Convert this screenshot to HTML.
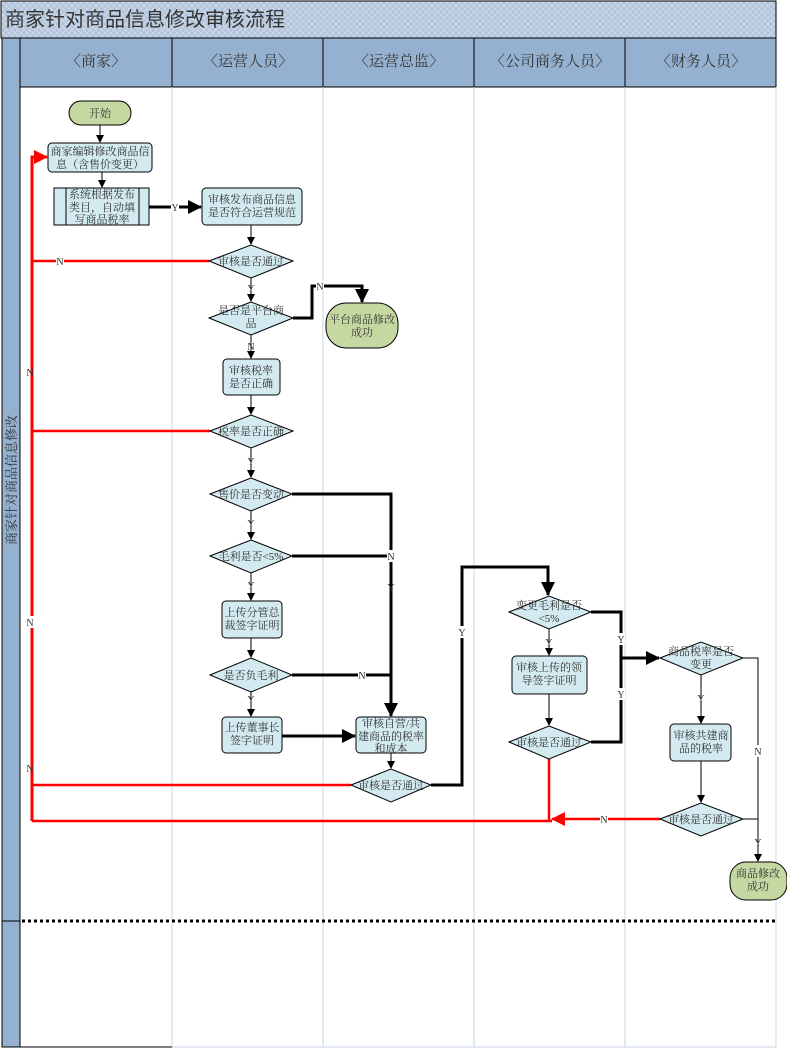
<!DOCTYPE html>
<html><head><meta charset="utf-8"><style>
html,body{margin:0;padding:0;background:#fff;width:787px;height:1049px;overflow:hidden}
svg{display:block}
text{font-family:"Liberation Serif","Noto Serif CJK SC","Noto Sans CJK SC",serif;fill:#333}
</style></head><body>
<svg width="787" height="1049" viewBox="0 0 787 1049" xmlns="http://www.w3.org/2000/svg">
<defs>
<pattern id="hp" width="6" height="6" patternUnits="userSpaceOnUse">
<rect width="6" height="6" fill="#b3c5dc"/>
<path d="M0 0L6 6M6 0L0 6" stroke="#d2dcea" stroke-width="0.7"/>
</pattern>
<marker id="ab" markerWidth="8" markerHeight="8" refX="7" refY="4" orient="auto" markerUnits="userSpaceOnUse"><path d="M0 0L8 4L0 8z" fill="#000"/></marker>
<marker id="abig" markerWidth="14" markerHeight="14" refX="13" refY="7" orient="auto" markerUnits="userSpaceOnUse"><path d="M0 0L14 7L0 14z" fill="#000"/></marker>
<marker id="ar" markerWidth="14" markerHeight="14" refX="13" refY="7" orient="auto" markerUnits="userSpaceOnUse"><path d="M0 0L14 7L0 14z" fill="#f00"/></marker>
</defs>
<!-- title -->
<rect x="1" y="1" width="775" height="37" fill="url(#hp)" stroke="#000"/>
<text x="5" y="26" font-size="20" style="font-family:'Liberation Sans','Noto Sans CJK SC',sans-serif">商家针对商品信息修改审核流程</text>
<!-- header -->
<rect x="20" y="38" width="756" height="49" fill="#95b1d0" stroke="#000"/>
<g stroke="#000"><line x1="172" y1="38" x2="172" y2="87"/><line x1="323" y1="38" x2="323" y2="87"/><line x1="474" y1="38" x2="474" y2="87"/><line x1="625" y1="38" x2="625" y2="87"/></g>
<g font-size="15" text-anchor="middle">
<text x="96" y="66">〈商家〉</text><text x="248" y="66">〈运营人员〉</text><text x="399" y="66">〈运营总监〉</text><text x="550" y="66">〈公司商务人员〉</text><text x="701" y="66">〈财务人员〉</text>
</g>
<!-- left band -->
<rect x="2" y="38" width="18" height="1009" fill="#95b1d0" stroke="#000"/>
<line x1="2" y1="921" x2="20" y2="921" stroke="#000"/>
<text transform="translate(16,480) rotate(-90)" font-size="13" text-anchor="middle">商家针对商品信息修改</text>
<!-- lane lines -->
<g stroke="#c7d5e6"><line x1="172" y1="87" x2="172" y2="1047"/><line x1="323" y1="87" x2="323" y2="1047"/><line x1="474" y1="87" x2="474" y2="1047"/><line x1="625" y1="87" x2="625" y2="1047"/><line x1="776" y1="87" x2="776" y2="1047"/><line x1="172" y1="1047" x2="776" y2="1047"/></g>
<line x1="20" y1="87" x2="20" y2="1047" stroke="#000"/>
<line x1="20" y1="1047" x2="172" y2="1047" stroke="#000"/>
<line x1="22" y1="921" x2="776" y2="921" stroke="#000" stroke-width="3" stroke-dasharray="3,3"/>

<!-- red connectors -->
<g stroke="#f00" fill="none">
<path d="M32 821V157H47" stroke-width="3" marker-end="url(#ar)"/>
<line x1="32" y1="261" x2="209" y2="261" stroke-width="2.5"/>
<line x1="32" y1="431" x2="210" y2="431" stroke-width="2.5"/>
<line x1="32" y1="785" x2="351" y2="785" stroke-width="2.5"/>
<line x1="32" y1="821" x2="552" y2="821" stroke-width="2.5"/>
<line x1="549" y1="759" x2="549" y2="821" stroke-width="2.5"/>
<line x1="660" y1="819" x2="552" y2="819" stroke-width="2.5" marker-end="url(#ar)"/>
</g>
<!-- black connectors -->
<g stroke="#000" fill="none">
<line x1="100" y1="125" x2="100" y2="142" marker-end="url(#ab)"/>
<line x1="102" y1="172" x2="102" y2="187" marker-end="url(#ab)"/>
<line x1="149" y1="207" x2="201" y2="207" stroke-width="3" marker-end="url(#abig)"/>
<line x1="251" y1="225" x2="251" y2="244" marker-end="url(#ab)"/>
<line x1="251" y1="278" x2="251" y2="301" marker-end="url(#ab)"/>
<path d="M293 318H312V286H362V302" stroke-width="3" marker-end="url(#abig)"/>
<line x1="251" y1="335" x2="251" y2="358" marker-end="url(#ab)"/>
<line x1="251" y1="395" x2="251" y2="414" marker-end="url(#ab)"/>
<line x1="251" y1="448" x2="251" y2="477" marker-end="url(#ab)"/>
<line x1="251" y1="511" x2="251" y2="539" marker-end="url(#ab)"/>
<line x1="251" y1="573" x2="251" y2="600" marker-end="url(#ab)"/>
<line x1="251" y1="638" x2="251" y2="657" marker-end="url(#ab)"/>
<line x1="251" y1="692" x2="251" y2="716" marker-end="url(#ab)"/>
<path d="M292 494H391V716" stroke-width="3" marker-end="url(#abig)"/>
<line x1="292" y1="556" x2="391" y2="556" stroke-width="3"/>
<line x1="292" y1="675" x2="391" y2="675" stroke-width="3"/>
<line x1="282" y1="736" x2="355" y2="736" stroke-width="3" marker-end="url(#abig)"/>
<line x1="391" y1="753" x2="391" y2="768" marker-end="url(#ab)"/>
<path d="M431 785H462V567H548V595" stroke-width="3" marker-end="url(#abig)"/>
<line x1="549" y1="629" x2="549" y2="655" marker-end="url(#ab)"/>
<line x1="549" y1="694" x2="549" y2="725" marker-end="url(#ab)"/>
<path d="M591 612H621V742H591" stroke-width="3"/>
<line x1="621" y1="658" x2="659" y2="658" stroke-width="3" marker-end="url(#abig)"/>
<path d="M743 658H758V861" marker-end="url(#ab)"/>
<line x1="743" y1="819" x2="758" y2="819"/>
<line x1="701" y1="675" x2="701" y2="723" marker-end="url(#ab)"/>
<line x1="701" y1="761" x2="701" y2="802" marker-end="url(#ab)"/>
</g>
<!-- connector labels -->
<g font-size="10" text-anchor="middle">
<rect x="171" y="202" width="8" height="10" fill="#fff"/><text x="175" y="211">Y</text>
<rect x="56" y="256" width="8" height="10" fill="#fff"/><text x="60" y="265">N</text>
<text x="251" y="292" fill="#555">Y</text>
<rect x="316" y="281" width="8" height="10" fill="#fff"/><text x="320" y="290">N</text>
<text x="251" y="350">N</text>
<text x="251" y="465">Y</text>
<text x="251" y="527">Y</text>
<text x="251" y="589">Y</text>
<text x="251" y="703">Y</text>
<rect x="387" y="550" width="8" height="12" fill="#fff"/><text x="391" y="560">N</text>
<text x="391" y="591" fill="#555">Y</text>
<rect x="358" y="670" width="8" height="10" fill="#fff"/><text x="362" y="679">N</text>
<rect x="458" y="626" width="8" height="12" fill="#fff"/><text x="462" y="636">Y</text>
<text x="549" y="646">Y</text>
<rect x="617" y="633" width="8" height="12" fill="#fff"/><text x="621" y="643">Y</text>
<rect x="617" y="688" width="8" height="12" fill="#fff"/><text x="621" y="698">Y</text>
<text x="701" y="702">Y</text>
<rect x="754" y="745" width="8" height="12" fill="#fff"/><text x="758" y="755">N</text>
<text x="758" y="846" fill="#777">Y</text>
<rect x="600" y="814" width="8" height="10" fill="#fff"/><text x="604" y="823">N</text>
<rect x="26" y="616" width="9" height="12" fill="#fff"/><text x="30" y="626">N</text>
<text x="30" y="376" fill="#555">N</text>
<text x="30" y="772" fill="#777">N</text>
</g>

<!-- nodes -->
<g stroke="#000" stroke-width="1">
<rect x="69" y="101" width="62" height="24" rx="12" fill="#c6d8a2"/>
<rect x="48" y="143" width="104" height="29" rx="4" fill="#d3eaf0"/>
<rect x="54" y="188" width="95" height="37" fill="#d3eaf0"/>
<line x1="66" y1="188" x2="66" y2="225"/><line x1="139" y1="188" x2="139" y2="225"/>
<rect x="202" y="188" width="100" height="37" rx="4" fill="#d3eaf0"/>
<path d="M209 261L251 245L293 261L251 278z" fill="#d3eaf0"/>
<path d="M209 318L251 302L293 318L251 335z" fill="#d3eaf0"/>
<rect x="326" y="303" width="72" height="45" rx="20" fill="#c6d8a2"/>
<rect x="223" y="359" width="57" height="36" rx="4" fill="#d3eaf0"/>
<path d="M210 431L251 415L293 431L251 448z" fill="#d3eaf0"/>
<path d="M210 494L251 478L292 494L251 511z" fill="#d3eaf0"/>
<path d="M210 556L251 540L292 556L251 573z" fill="#d3eaf0"/>
<rect x="222" y="601" width="60" height="37" rx="4" fill="#d3eaf0"/>
<path d="M210 675L251 658L292 675L251 692z" fill="#d3eaf0"/>
<rect x="222" y="717" width="60" height="36" rx="4" fill="#d3eaf0"/>
<rect x="356" y="717" width="70" height="36" rx="4" fill="#d3eaf0"/>
<path d="M351 785L391 769L431 785L391 802z" fill="#d3eaf0"/>
<path d="M509 612L549 596L591 612L549 629z" fill="#d3eaf0"/>
<rect x="512" y="656" width="75" height="38" rx="4" fill="#d3eaf0"/>
<path d="M509 742L549 726L591 742L549 759z" fill="#d3eaf0"/>
<path d="M660 658L701 642L743 658L701 675z" fill="#d3eaf0"/>
<rect x="670" y="724" width="61" height="37" rx="4" fill="#d3eaf0"/>
<path d="M660 819L701 803L743 819L701 836z" fill="#d3eaf0"/>
<rect x="730" y="862" width="57" height="38" rx="16" fill="#c6d8a2"/>
</g>
<g font-size="11" text-anchor="middle">
<text x="100" y="117">开始</text>
<text x="100" y="155">商家编辑修改商品信</text><text x="100" y="168">息（含售价变更）</text>
<text x="102" y="198">系统根据发布</text><text x="102" y="211">类目，自动填</text><text x="102" y="223">写商品税率</text>
<text x="252" y="203">审核发布商品信息</text><text x="252" y="216">是否符合运营规范</text>
<text x="251" y="265">审核是否通过</text>
<text x="251" y="314">是否是平台商</text><text x="251" y="327">品</text>
<text x="362" y="323">平台商品修改</text><text x="362" y="336">成功</text>
<text x="251" y="374">审核税率</text><text x="251" y="387">是否正确</text>
<text x="251" y="435">税率是否正确</text>
<text x="251" y="498">售价是否变动</text>
<text x="251" y="560">毛利是否&lt;5%</text>
<text x="252" y="616">上传分管总</text><text x="252" y="629">裁签字证明</text>
<text x="251" y="679">是否负毛利</text>
<text x="252" y="731">上传董事长</text><text x="252" y="744">签字证明</text>
<text x="391" y="727">审核自营/共</text><text x="391" y="740">建商品的税率</text><text x="391" y="752">和成本</text>
<text x="391" y="789">审核是否通过</text>
<text x="549" y="609">变更毛利是否</text><text x="549" y="622">&lt;5%</text>
<text x="549" y="671">审核上传的领</text><text x="549" y="684">导签字证明</text>
<text x="549" y="746">审核是否通过</text>
<text x="701" y="655">商品税率是否</text><text x="701" y="668">变更</text>
<text x="701" y="739">审核共建商</text><text x="701" y="752">品的税率</text>
<text x="701" y="823">审核是否通过</text>
<text x="758" y="877">商品修改</text><text x="758" y="890">成功</text>
</g>
</svg>
</body></html>
